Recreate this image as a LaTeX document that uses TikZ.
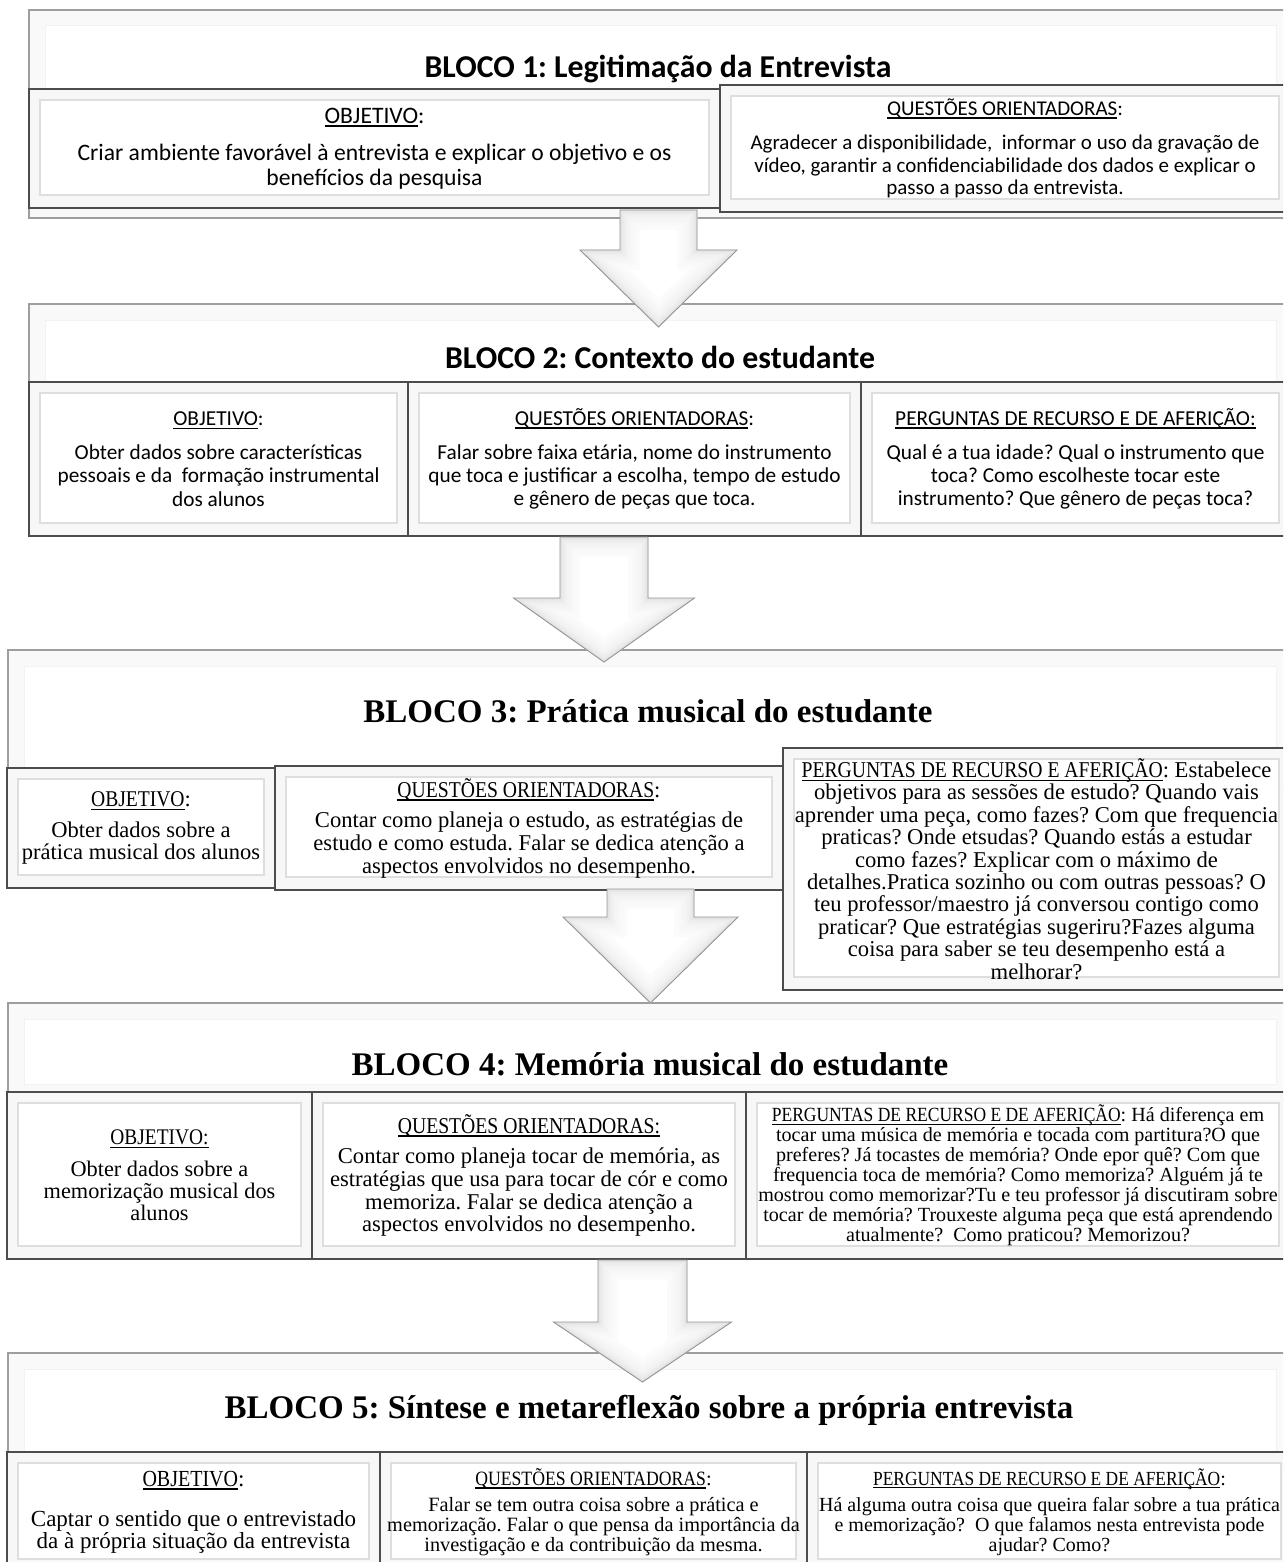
\documentclass[tikz,border=0pt]{standalone}
\usepackage{fontspec}
\setmainfont{Carlito}
\newfontfamily\srf{Liberation Serif}
\usetikzlibrary{calc}
\frenchspacing

% underlined heading text
\newsavebox\undlbox
\newcommand\undl[1]{\sbox\undlbox{#1}\rlap{\rule[-0.16em]{\wd\undlbox}{0.065em}}\usebox\undlbox}
% narrower capitals for the serif headings
\newcommand\capsq[1]{\scalebox{0.87}[1]{#1}}
% font size and line distance in one go
\newcommand\fsz[2]{\fontsize{#1pt}{#2pt}\selectfont\lineskiplimit=-50pt\relax}

\tikzset{
  hdr/.style={draw=black!38, line width=1.3pt, fill=white, inner sep=0pt,
    path picture={
      \coordinate (pp-sw) at (path picture bounding box.south west);
      \coordinate (pp-ne) at (path picture bounding box.north east);
      \fill[black!2.5] (pp-sw) rectangle (pp-ne);
      \fill[white] ([shift={(16pt,16pt)}]pp-sw) rectangle ([shift={(-16pt,-16pt)}]pp-ne);
      \draw[black!5, line width=1pt] ([shift={(16pt,16pt)}]pp-sw) rectangle ([shift={(-16pt,-16pt)}]pp-ne);
    }},
  sub/.style={draw=black!70, line width=1.7pt, fill=white, inner sep=0pt, align=center,
    path picture={
      \coordinate (pp-sw) at (path picture bounding box.south west);
      \coordinate (pp-ne) at (path picture bounding box.north east);
      \fill[black!3] (pp-sw) rectangle (pp-ne);
      \fill[white] ([shift={(11pt,13pt)}]pp-sw) rectangle ([shift={(-11pt,-11pt)}]pp-ne);
      \draw[black!13, line width=1.3pt] ([shift={(11pt,13pt)}]pp-sw) rectangle ([shift={(-11pt,-11pt)}]pp-ne);
    }},
  ttlsans/.style={anchor=base, inner sep=0pt, font=\fsz{31.8}{36}\bfseries},
  ttlserif/.style={anchor=base, inner sep=0pt, font=\srf\fsz{33}{38}\bfseries},
}

% white block arrow pointing down, with a soft bevel inside
\newcommand\arrowpoly[1]{(#1-1)--(#1-2)--(#1-3)--(#1-4)--(#1-5)--(#1-6)--(#1-7)--cycle}
\newcommand\blockarrow[6]{% name, top, tip, shaft half width, head half width, head length
  \path let \p1=(#2), \p2=(#3) in
    (\x1-#4pt,\y1) coordinate (#1-1)
    (\x1+#4pt,\y1) coordinate (#1-2)
    (\x1+#4pt,\y2+#6pt) coordinate (#1-3)
    (\x1+#5pt,\y2+#6pt) coordinate (#1-4)
    (\x2,\y2) coordinate (#1-5)
    (\x1-#5pt,\y2+#6pt) coordinate (#1-6)
    (\x1-#4pt,\y2+#6pt) coordinate (#1-7);
  \begin{scope}
    \clip \arrowpoly{#1};
    \fill[white] \arrowpoly{#1};
    \foreach \w/\c in {40/1.5, 32/2.5, 25/3.5, 19/4.5, 14/5.5, 10/7, 6/9, 3/11}
      \draw[black!\c, line width=\w pt] \arrowpoly{#1};
  \end{scope}
  \draw[black!42, line width=0.9pt] \arrowpoly{#1};
}

\begin{document}
\begin{tikzpicture}[x=1pt, y=-1pt]
\useasboundingbox (0,0) rectangle (1283,1562);
\fill[white] (0,0) rectangle (1283,1562);
\clip (0,0) rectangle (1283,1562);

% ---------- block 1 ----------
\node[hdr, minimum width=1263pt, minimum height=208pt] (h1) at (660.5,114) {};
\node[ttlsans] (t1) at (658,78) {BLOCO 1: Legitimação da Entrevista};
\node[sub, minimum width=691pt, minimum height=119pt, font=\fsz{23.6}{25}] (b1a) at (374.5,148.5)
  {\undl{OBJETIVO}:\\[12pt] Criar ambiente favorável à entrevista e explicar o objetivo e os\\ benefícios da pesquisa};
\node[sub, minimum width=570pt, minimum height=127pt, font=\fsz{21}{22.5}] (b1b) at (1005,148.5)
  {\undl{QUESTÕES ORIENTADORAS}:\\[12pt] Agradecer a disponibilidade,\ \ informar o uso da gravação de\\ vídeo, garantir a confidenciabilidade dos dados e explicar o\\ passo a passo da entrevista.};

% ---------- block 2 ----------
\node[hdr, minimum width=1263pt, minimum height=232pt] (h2) at (660.5,420) {};
\node[ttlsans] (t2) at (660,368) {BLOCO 2: Contexto do estudante};
\coordinate (a1top) at (658.5,210);
\coordinate (a1tip) at (658.5,327);
\blockarrow{a1}{a1top}{a1tip}{38.5}{78.5}{77}
\node[sub, minimum width=379pt, minimum height=154pt, font=\fsz{21.3}{23.3}] (b2a) at (218.5,459)
  {\undl{OBJETIVO}:\\[10.7pt] Obter dados sobre características\\ pessoais e da\ \ formação instrumental\\ dos alunos};
\node[sub, minimum width=453pt, minimum height=154pt, font=\fsz{21.3}{23.3}] (b2b) at (634.5,459)
  {\undl{QUESTÕES ORIENTADORAS}:\\[10.7pt] Falar sobre faixa etária, nome do instrumento\\ que toca e justificar a escolha, tempo de estudo\\ e gênero de peças que toca.};
\node[sub, minimum width=429pt, minimum height=154pt, font=\fsz{21.3}{23.3}] (b2c) at (1075.5,459)
  {\undl{PERGUNTAS DE RECURSO E DE AFERIÇÃO:}\\[10.7pt] Qual é a tua idade? Qual o instrumento que\\ toca? Como escolheste tocar este\\ instrumento? Que gênero de peças toca?};

% ---------- block 3 ----------
\node[hdr, minimum width=1284pt, minimum height=140pt] (h3) at (650,720) {};
\node[ttlserif] (t3) at (648,722) {BLOCO 3: Prática musical do estudante};
\coordinate (a2top) at (604,537);
\coordinate (a2tip) at (604,662);
\blockarrow{a2}{a2top}{a2tip}{44}{90.5}{64}
\node[sub, minimum width=268pt, minimum height=120pt, font=\srf\fsz{22.5}{22}] (b3a) at (141,828)
  {\undl{\capsq{OBJETIVO}}:\\[9pt] Obter dados sobre a\\ prática musical dos alunos};
\node[sub, minimum width=508pt, minimum height=124pt, font=\srf\fsz{22.6}{23}] (b3b) at (529,828)
  {\undl{\capsq{QUESTÕES ORIENTADORAS}}:\\[7pt] Contar como planeja o estudo, as estratégias de\\ estudo e como estuda. Falar se dedica atenção a\\ aspectos envolvidos no desempenho.};
\node[sub, minimum width=507pt, minimum height=242pt, font=\srf\fsz{22.6}{22.4}] (b3c) at (1036.5,869)
  {\undl{\capsq{PERGUNTAS DE RECURSO E AFERIÇÃO}}: Estabelece\\ objetivos para as sessões de estudo? Quando vais\\ aprender uma peça, como fazes? Com que frequencia\\ praticas? Onde etsudas? Quando estás a estudar\\ como fazes? Explicar com o máximo de\\ detalhes.Pratica sozinho ou com outras pessoas? O\\ teu professor/maestro já conversou contigo como\\ praticar? Que estratégias sugeriru?Fazes alguma\\ coisa para saber se teu desempenho está a\\ melhorar?};

% ---------- block 4 ----------
\node[hdr, minimum width=1284pt, minimum height=97pt] (h4) at (650,1051.5) {};
\node[ttlserif] (t4) at (650,1075) {BLOCO 4: Memória musical do estudante};
\coordinate (a3top) at (650.5,889);
\coordinate (a3tip) at (650.5,1003);
\blockarrow{a3}{a3top}{a3tip}{43.5}{87.5}{86}
\node[sub, minimum width=305pt, minimum height=167pt, font=\srf\fsz{22.3}{22}] (b4a) at (159.5,1175.5)
  {\undl{\capsq{OBJETIVO:}}\\[10pt] Obter dados sobre a\\ memorização musical dos\\ alunos};
\node[sub, minimum width=434pt, minimum height=167pt, font=\srf\fsz{22.6}{22.7}] (b4b) at (529,1175.5)
  {\undl{\capsq{QUESTÕES ORIENTADORAS:}}\\[8pt] Contar como planeja tocar de memória, as\\ estratégias que usa para tocar de cór e como\\ memoriza. Falar se dedica atenção a\\ aspectos envolvidos no desempenho.};
\node[sub, minimum width=544pt, minimum height=167pt, font=\srf\fsz{20.1}{20}] (b4c) at (1018,1175.5)
  {\undl{\capsq{PERGUNTAS DE RECURSO E DE AFERIÇÃO}}: Há diferença em\\ tocar uma música de memória e tocada com partitura?O que\\ preferes? Já tocastes de memória? Onde epor quê? Com que\\ frequencia toca de memória? Como memoriza? Alguém já te\\ mostrou como memorizar?Tu e teu professor já discutiram sobre\\ tocar de memória? Trouxeste alguma peça que está aprendendo\\ atualmente?\ \ Como praticou? Memorizou?};

% ---------- block 5 ----------
\node[hdr, minimum width=1284pt, minimum height=117pt] (h5) at (650,1411.5) {};
\node[ttlserif] (t5) at (649,1418) {BLOCO 5: Síntese e metareflexão sobre a própria entrevista};
\coordinate (a4top) at (642.5,1260);
\coordinate (a4tip) at (642.5,1382);
\blockarrow{a4}{a4top}{a4tip}{44.5}{89}{60}
\node[sub, minimum width=373pt, minimum height=120pt, font=\srf\fsz{23}{22}] (b5a) at (193.5,1512)
  {\undl{\capsq{OBJETIVO}}:\\[18pt] Captar o sentido que o entrevistado\\ da à própria situação da entrevista};
\node[sub, minimum width=427pt, minimum height=120pt, font=\srf\fsz{20.3}{20}] (b5b) at (593.5,1512)
  {\undl{\capsq{QUESTÕES ORIENTADORAS}}:\\[6pt] Falar se tem outra coisa sobre a prática e\\ memorização. Falar o que pensa da importância da\\ investigação e da contribuição da mesma.};
\node[sub, minimum width=485pt, minimum height=120pt, font=\srf\fsz{20}{20}] (b5c) at (1049.5,1512)
  {\undl{\capsq{PERGUNTAS DE RECURSO E DE AFERIÇÃO}}:\\[6pt] Há alguma outra coisa que queira falar sobre a tua prática\\ e memorização?\ \ O que falamos nesta entrevista pode\\ ajudar? Como?};
\end{tikzpicture}
\end{document}
